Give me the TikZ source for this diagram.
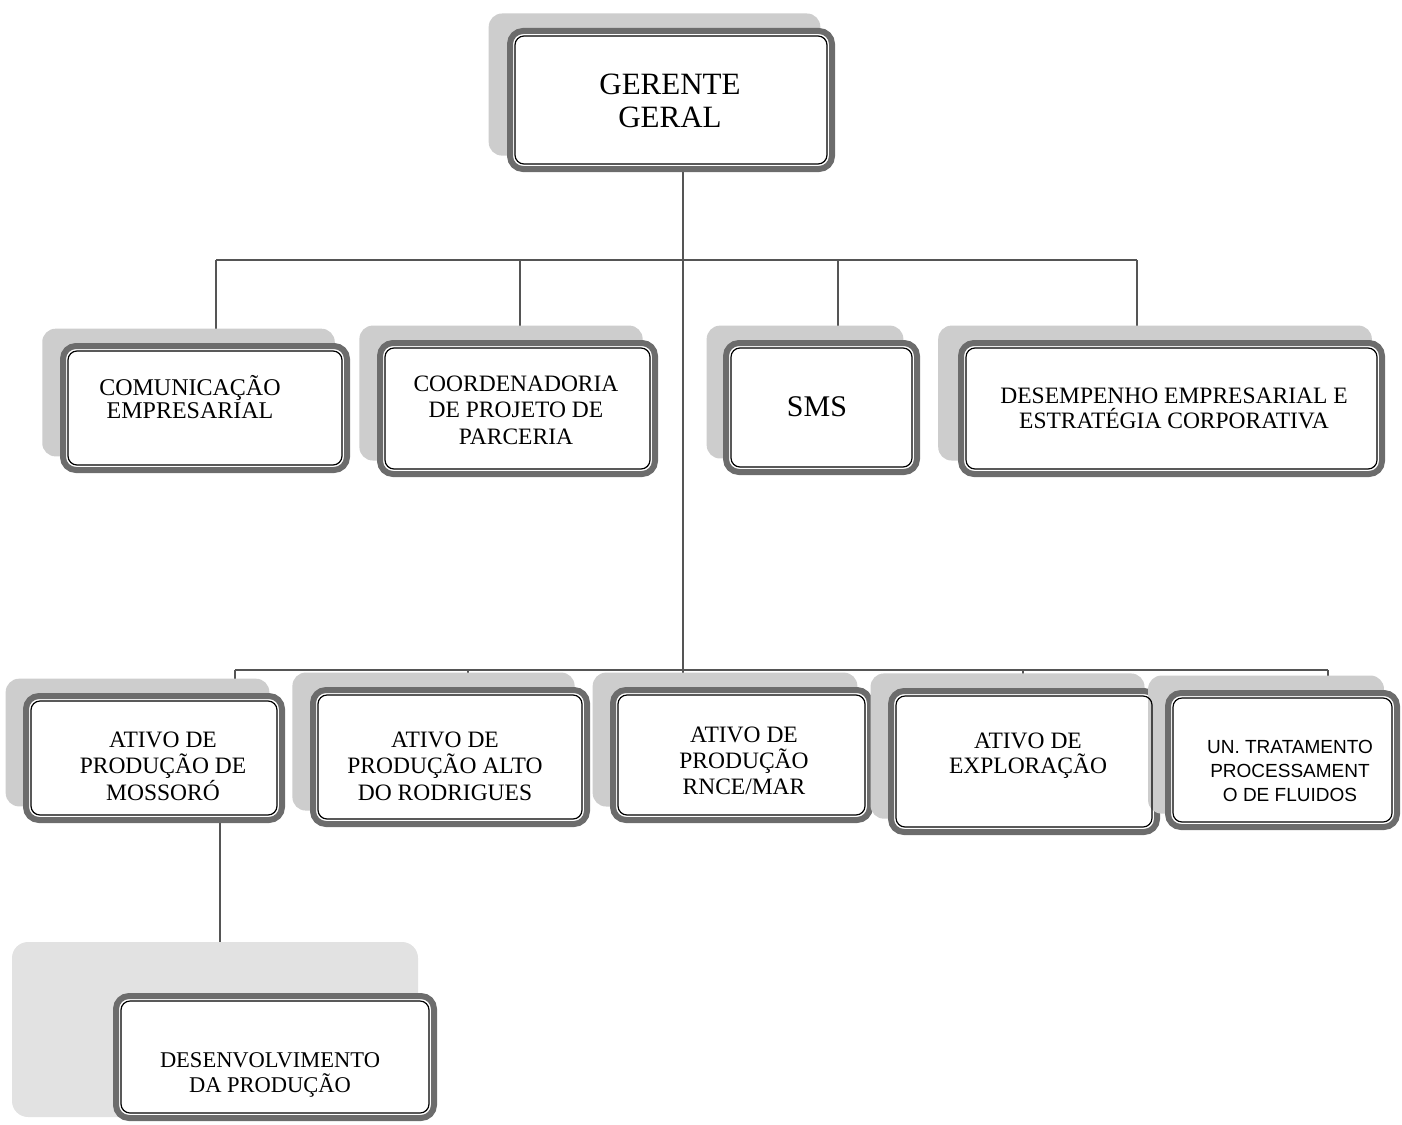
\documentclass[tikz,border=0pt]{standalone}
\usepackage{fontspec}
\setmainfont{Liberation Serif}
\newfontfamily\arialf{Liberation Sans}
\usetikzlibrary{shadows,backgrounds}
\definecolor{bordergray}{RGB}{108,108,108}
\definecolor{shadowgray}{RGB}{205,205,205}
\definecolor{shadowlight}{RGB}{226,226,226}
\definecolor{linegray}{RGB}{85,85,85}
\tikzset{
  boxbase/.style={draw=bordergray, line width=6pt, fill=white, rounded corners=13pt,
    inner sep=0pt, outer sep=0pt},
  box/.style={boxbase,
    general shadow={fill=shadowgray, shadow scale=1.03, shadow xshift=-16pt, shadow yshift=15pt}},
  bigshadow/.style={fill=shadowlight, rounded corners=16pt},
  innerline/.style={draw=black, line width=1.2pt, rounded corners=9pt},
  lbl/.style={align=center, inner sep=0pt, text=black},
  conn/.style={draw=linegray, line width=2pt},
}
\newcommand{\inframe}[1]{\draw[innerline] ([shift={(5pt,-5pt)}]#1.north west) rectangle ([shift={(-5pt,5pt)}]#1.south east);}
\begin{document}
\begin{tikzpicture}[x=1pt,y=-1pt]
\useasboundingbox (0,0) rectangle (1402,1124);
% boxes
\node[box, minimum width=322, minimum height=138] (gg) at (671,100) {};
\node[box, minimum width=284, minimum height=124] (com) at (205,408) {};
\node[box, minimum width=275, minimum height=131] (coord) at (517.5,408.5) {};
\node[box, minimum width=191, minimum height=129] (sms) at (821.5,407.5) {};
\node[box, minimum width=421, minimum height=131] (des) at (1171.5,408.5) {};
\node[box, minimum width=256, minimum height=124] (mos) at (154,758) {};
\node[box, minimum width=274, minimum height=134] (alto) at (450,757) {};
\node[box, minimum width=257, minimum height=130] (rnce) at (741.5,755) {};
\node[box, minimum width=266, minimum height=141] (expl) at (1024,761.5) {};
\node[box, minimum width=229, minimum height=134] (untr) at (1282.5,760) {};
\fill[bigshadow] (12,942) rectangle (418,1117);
\node[boxbase, minimum width=318, minimum height=122] (dev) at (275,1057) {};
\foreach \n in {gg,com,coord,sms,des,mos,alto,rnce,expl,untr,dev} {\inframe{\n}}
% connectors
\begin{scope}[on background layer]
\coordinate (t1) at (683,260);
\coordinate (xcom) at (216,260);
\coordinate (xcoord) at (520,260);
\coordinate (xsms) at (838,260);
\coordinate (xdes) at (1137,260);
\coordinate (xmos) at (235,670);
\coordinate (xalto) at (468,670);
\coordinate (xexpl) at (1023,670);
\coordinate (xuntr) at (1328,670);
\coordinate (xdev) at (220,900);
\draw[conn] (xcom) -- (xdes);
\draw[conn] (xmos) -- (xuntr);
\draw[conn] (gg.south -| t1) -- (rnce.north -| t1);
\foreach \n in {com,coord,sms,des,mos,alto,expl,untr} {\draw[conn] (x\n) -- (x\n |- \n.north);}
\draw[conn] (mos.south -| xdev) -- (dev.north -| xdev);
\end{scope}
% texts
\node[lbl, font=\fontsize{31}{33}\selectfont] (ggt) at (670,101) {GERENTE\\GERAL};
\node[lbl, font=\fontsize{24}{23.5}\selectfont] (comt) at (190,397) {COMUNICAÇÃO\\EMPRESARIAL};
\node[lbl, font=\fontsize{23.5}{26.5}\selectfont] (coordt) at (516,410) {COORDENADORIA\\DE PROJETO DE\\PARCERIA};
\node[lbl, font=\fontsize{30}{32}\selectfont] (smst) at (817,407) {SMS};
\node[lbl, font=\fontsize{23.5}{25}\selectfont] (dest) at (1174,408) {DESEMPENHO EMPRESARIAL E\\ESTRATÉGIA CORPORATIVA};
\node[lbl, font=\fontsize{23.5}{26.5}\selectfont] (most) at (163,766) {ATIVO DE\\PRODUÇÃO DE\\MOSSORÓ};
\node[lbl, font=\fontsize{23.5}{26.5}\selectfont] (altot) at (445,766) {ATIVO DE\\PRODUÇÃO ALTO\\DO RODRIGUES};
\node[lbl, font=\fontsize{23.5}{26}\selectfont] (rncet) at (744,761) {ATIVO DE\\PRODUÇÃO\\RNCE/MAR};
\node[lbl, font=\fontsize{23.5}{25}\selectfont] (explt) at (1028,756) {ATIVO DE\\EXPLORAÇÃO};
\node[lbl, font=\arialf\fontsize{19}{24}\selectfont] (untrt) at (1290,771) {UN. TRATAMENTO\\PROCESSAMENT\\O DE FLUIDOS};
\node[lbl, font=\fontsize{22.5}{25}\selectfont] (devt) at (270,1075) {DESENVOLVIMENTO\\DA PRODUÇÃO};
\end{tikzpicture}
\end{document}
